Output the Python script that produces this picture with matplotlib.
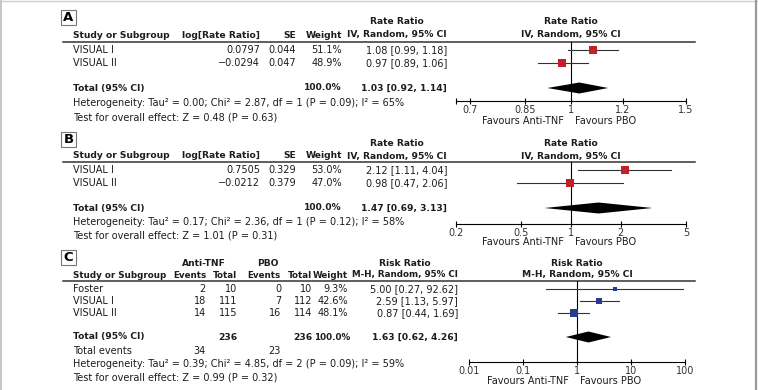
import matplotlib
matplotlib.use('Agg')
import matplotlib.pyplot as plt
from matplotlib.patches import Rectangle
from matplotlib.ticker import FixedLocator, FixedFormatter, NullFormatter
import numpy as np

# panel A - rate ratio, first outcome
studies_a = ['VISUAL I', 'VISUAL II']
log_rr_a = [0.0797, -0.0294]
se_a = [0.044, 0.047]
weight_a = [51.1, 48.9]
rr_a = [1.08, 0.97]
lo_a = [0.99, 0.89]
hi_a = [1.18, 1.06]
total_a = [1.03, 0.92, 1.14]
het_a = 'Heterogeneity: Tau² = 0.00; Chi² = 2.87, df = 1 (P = 0.09); I² = 65%'
test_a = 'Test for overall effect: Z = 0.48 (P = 0.63)'
ticks_a = [0.7, 0.85, 1, 1.2, 1.5]
ticklabels_a = ['0.7', '0.85', '1', '1.2', '1.5']

# panel B - rate ratio, second outcome
studies_b = ['VISUAL I', 'VISUAL II']
log_rr_b = [0.7505, -0.0212]
se_b = [0.329, 0.379]
weight_b = [53.0, 47.0]
rr_b = [2.12, 0.98]
lo_b = [1.11, 0.47]
hi_b = [4.04, 2.06]
total_b = [1.47, 0.69, 3.13]
het_b = 'Heterogeneity: Tau² = 0.17; Chi² = 2.36, df = 1 (P = 0.12); I² = 58%'
test_b = 'Test for overall effect: Z = 1.01 (P = 0.31)'
ticks_b = [0.2, 0.5, 1, 2, 5]
ticklabels_b = ['0.2', '0.5', '1', '2', '5']

# panel C - risk ratio
studies_c = ['Foster', 'VISUAL I', 'VISUAL II']
events_tnf = [2, 18, 14]
n_tnf = [10, 111, 115]
events_pbo = [0, 7, 16]
n_pbo = [10, 112, 114]
weight_c = [9.3, 42.6, 48.1]
rr_c = [5.00, 2.59, 0.87]
lo_c = [0.27, 1.13, 0.44]
hi_c = [92.62, 5.97, 1.69]
total_c = [1.63, 0.62, 4.26]
het_c = 'Heterogeneity: Tau² = 0.39; Chi² = 4.85, df = 2 (P = 0.09); I² = 59%'
test_c = 'Test for overall effect: Z = 0.99 (P = 0.32)'
ticks_c = [0.01, 0.1, 1, 10, 100]
ticklabels_c = ['0.01', '0.1', '1', '10', '100']

W, H = 758, 390
FS = 7.0      # regular text
FSB = 6.6     # bold text (DejaVu bold runs wide)
INK = '#1c1c1c'
RED = '#c4202b'
BLUE = '#2c3a8e'

fig = plt.figure(figsize=(W / 100, H / 100), dpi=100)
bg = fig.add_axes([0, 0, 1, 1])
bg.set_xlim(0, W)
bg.set_ylim(H, 0)
bg.axis('off')

# thin frame round the picture
bg.plot([1, 1], [0, H], color='#bbbbbb', lw=1.2, clip_on=False)
bg.plot([0, W], [0.5, 0.5], color='#cccccc', lw=1.0, clip_on=False)
bg.plot([755.5, 755.5], [0, H], color='#999999', lw=1.6, clip_on=False)


def txt(x, y, s, ha='left', bold=False, size=None):
    if size is None:
        size = FSB if bold else FS
    bg.text(x, y, s, ha=ha, va='center', fontsize=size, color=INK,
            fontweight='bold' if bold else 'normal')


def fmt_ci(est, lo, hi):
    return f'{est:.2f} [{lo:.2f}, {hi:.2f}]'


def letter_box(y, letter):
    bg.add_patch(Rectangle((61, y), 15, 15, fill=False, ec='#777777', lw=0.8))
    bg.text(68.5, y + 7.8, letter, ha='center', va='center', fontsize=9.5,
            fontweight='bold', color='black')


def forest_axes(x0, x1, y0, y1, lim, ticks, labels):
    ax = fig.add_axes([x0 / W, 1 - y1 / H, (x1 - x0) / W, (y1 - y0) / H])
    ax.set_xscale('log')
    ax.set_xlim(lim)
    ax.set_ylim(y1, y0)
    ax.patch.set_alpha(0)
    for s in ['top', 'left', 'right']:
        ax.spines[s].set_visible(False)
    ax.spines['bottom'].set_linewidth(0.8)
    ax.yaxis.set_visible(False)
    ax.xaxis.set_major_locator(FixedLocator(ticks))
    ax.xaxis.set_major_formatter(FixedFormatter(labels))
    ax.xaxis.set_minor_locator(FixedLocator(list(lim)))
    ax.xaxis.set_minor_formatter(NullFormatter())
    ax.tick_params(axis='x', which='both', direction='inout', length=5,
                   width=0.8, pad=0.5, labelsize=FS, labelcolor='#333333')
    ax.axvline(1, color='black', lw=0.8)
    return ax


def draw_forest(ax, rows, est, lo, hi, weight, total, ytot, color, k):
    for y, e, l, h, w in zip(rows, est, lo, hi, weight):
        ax.plot([l, h], [y, y], color='#333333', lw=0.8)
        side = k * np.sqrt(w) * 0.72
        ax.plot(e, y, marker='s', ms=side, color=color, mec=color, mew=0)
    e, l, h = total
    ax.fill([l, e, h, e], [ytot, ytot - 5.5, ytot, ytot + 5.5], color='black', lw=0)


def rate_panel(letter, ys, studies, log_rr, se, weight, rr, lo, hi, total,
               het, test, lim, ticks, ticklabels):
    box, h1, h2, line, rows, ytot, yhet, ytest, yaxis, yfav = ys
    letter_box(box, letter)
    txt(397, h1, 'Rate Ratio', ha='center', bold=True)
    txt(73, h2, 'Study or Subgroup', bold=True)
    txt(260, h2, 'log[Rate Ratio]', ha='right', bold=True)
    txt(296, h2, 'SE', ha='right', bold=True)
    txt(342, h2, 'Weight', ha='right', bold=True)
    txt(447, h2, 'IV, Random, 95% CI', ha='right', bold=True)
    txt(571, h1, 'Rate Ratio', ha='center', bold=True)
    txt(571, h2, 'IV, Random, 95% CI', ha='center', bold=True)
    bg.plot([63, 695], [line, line], color='#333333', lw=1.1)
    for y, s, b, se_, w, e, l, h in zip(rows, studies, log_rr, se, weight, rr, lo, hi):
        txt(73, y, s)
        txt(260, y, f'{b:.4f}'.replace('-', '\u2212'), ha='right')
        txt(296, y, f'{se_:.3f}', ha='right')
        txt(342, y, f'{w:.1f}%', ha='right')
        txt(447, y, fmt_ci(e, l, h), ha='right')
    txt(73, ytot, 'Total (95% CI)', bold=True)
    txt(342, ytot, f'{sum(weight):.1f}%', ha='right', bold=True)
    txt(447, ytot, fmt_ci(*total), ha='right', bold=True)
    txt(73, yhet, het)
    txt(73, ytest, test)
    txt(564, yfav, 'Favours Anti-TNF', ha='right')
    txt(575, yfav, 'Favours PBO')
    ax = forest_axes(456, 686, line, yaxis, lim, ticks, ticklabels)
    draw_forest(ax, rows, rr, lo, hi, weight, total, ytot, RED, 1.15)


rate_panel('A', (10, 22, 35, 42, [50, 63], 88, 103, 117, 101, 121),
           studies_a, log_rr_a, se_a, weight_a, rr_a, lo_a, hi_a, total_a,
           het_a, test_a, (1 / 1.5, 1.5), ticks_a, ticklabels_a)

rate_panel('B', (132, 143, 156, 162, [170, 183], 208, 222, 236, 224, 242),
           studies_b, log_rr_b, se_b, weight_b, rr_b, lo_b, hi_b, total_b,
           het_b, test_b, (0.2, 5), ticks_b, ticklabels_b)

# panel C
box, h1, h2, line = 250, 263, 275, 281
rows_c = [289, 301, 313]
ytot, yev, yhet, ytest, yaxis, yfav = 337, 351, 364, 377, 362, 381
letter_box(box, 'C')
txt(204, h1, 'Anti-TNF', ha='center', bold=True)
txt(268, h1, 'PBO', ha='center', bold=True)
txt(405, h1, 'Risk Ratio', ha='center', bold=True)
# the column heads here sit close together, so they get a touch smaller type
txt(73, h2, 'Study or Subgroup', bold=True, size=6.3)
for x, s in zip([206, 237, 281, 312, 348, 458],
                ['Events', 'Total', 'Events', 'Total', 'Weight', 'M-H, Random, 95% CI']):
    txt(x, h2, s, ha='right', bold=True, size=6.3)
txt(577, h1, 'Risk Ratio', ha='center', bold=True)
txt(577, h2, 'M-H, Random, 95% CI', ha='center', bold=True)
bg.plot([63, 695], [line, line], color='#333333', lw=1.1)
for y, s, et, nt, ep, npb, w, e, l, h in zip(rows_c, studies_c, events_tnf, n_tnf,
                                             events_pbo, n_pbo, weight_c, rr_c, lo_c, hi_c):
    txt(73, y, s)
    txt(206, y, str(et), ha='right')
    txt(237, y, str(nt), ha='right')
    txt(281, y, str(ep), ha='right')
    txt(312, y, str(npb), ha='right')
    txt(348, y, f'{w:.1f}%', ha='right')
    txt(458, y, fmt_ci(e, l, h), ha='right')
txt(73, ytot, 'Total (95% CI)', bold=True)
txt(237, ytot, str(sum(n_tnf)), ha='right', bold=True)
txt(312, ytot, str(sum(n_pbo)), ha='right', bold=True)
txt(350, ytot, f'{sum(weight_c):.1f}%', ha='right', bold=True, size=6.3)
txt(458, ytot, fmt_ci(*total_c), ha='right', bold=True)
txt(73, yev, 'Total events')
txt(206, yev, str(sum(events_tnf)), ha='right')
txt(281, yev, str(sum(events_pbo)), ha='right')
txt(73, yhet, het_c)
txt(73, ytest, test_c)
txt(569, yfav, 'Favours Anti-TNF', ha='right')
txt(580, yfav, 'Favours PBO')
ax_c = forest_axes(469, 685, line, yaxis, (0.01, 100), ticks_c, ticklabels_c)
draw_forest(ax_c, rows_c, rr_c, lo_c, hi_c, weight_c, total_c, ytot, BLUE, 1.02)

fig.savefig('out.png', dpi=100)
